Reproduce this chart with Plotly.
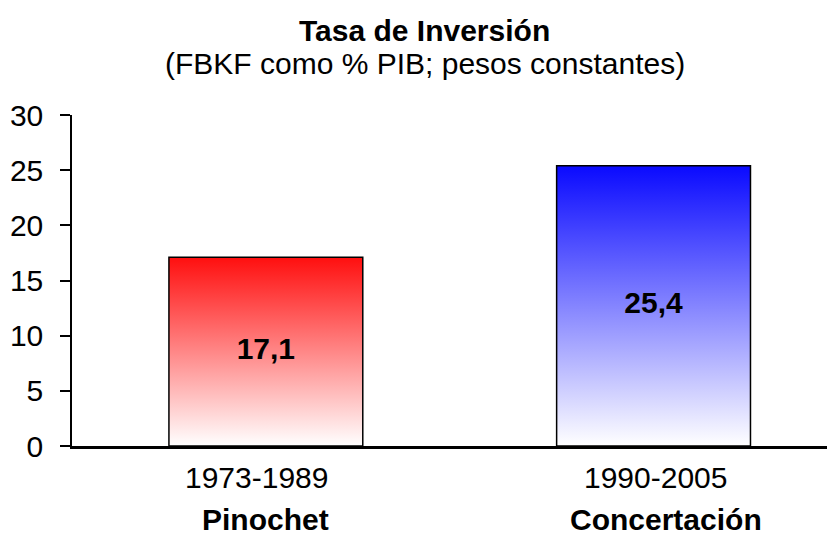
import plotly.graph_objects as go

# datos
periodos = ["1973-1989", "1990-2005"]
gobiernos = ["Pinochet", "Concertación"]
tasa_inversion = [17.1, 25.4]
etiquetas = ["17,1", "25,4"]
colores_top = ["#ff0f0f", "#0a0aff"]

font_family = "Liberation Sans, Arial, sans-serif"
fsize = 30
bar_w = 0.5
xpos = list(range(len(periodos)))
# pequeños desplazamientos de las etiquetas del eje x (como en el original)
shift_periodo = [-9, 2]
shift_gobierno = [0, 12]

fig = go.Figure()

# barras: relleno degradado (blanco abajo -> color arriba) con contorno negro
for i, v in enumerate(tasa_inversion):
    x0, x1 = xpos[i] - bar_w / 2, xpos[i] + bar_w / 2
    fig.add_trace(go.Scatter(
        x=[x0, x1, x1, x0, x0], y=[0, 0, v, v, 0],
        mode="lines", line=dict(width=1.5, color="black"), fill="toself",
        fillgradient=dict(type="vertical",
                          colorscale=[[0, "#ffffff"], [1, colores_top[i]]]),
        hoverinfo="skip", showlegend=False))

# valores en el centro de cada barra
fig.add_trace(go.Scatter(
    x=xpos, y=[v / 2 for v in tasa_inversion], mode="text", text=etiquetas,
    textposition="middle center",
    textfont=dict(family=font_family, size=fsize, color="black", weight="bold"),
    hoverinfo="skip", showlegend=False))

anns = [
    dict(text="<b>Tasa de Inversión</b>", x=0.4626, y=1.255),
    dict(text="(FBKF como % PIB; pesos constantes)", x=0.4626, y=1.157),
]
for i in range(len(periodos)):
    anns.append(dict(text=periodos[i], x=xpos[i], y=-0.095, xref="x",
                     xshift=shift_periodo[i]))
    anns.append(dict(text="<b>" + gobiernos[i] + "</b>", x=xpos[i], y=-0.222,
                     xref="x", xshift=shift_gobierno[i]))
for a in anns:
    a.setdefault("xref", "paper")
    a.update(yref="paper", showarrow=False, xanchor="center", yanchor="middle",
             font=dict(family=font_family, size=fsize, color="black"))

# la pagina deja 8px de margen en el body, se compensa aqui
fig.update_layout(
    width=827, height=526,
    margin=dict(l=64, r=0, t=106.5, b=88.3),
    paper_bgcolor="white", plot_bgcolor="white",
    font=dict(family=font_family, size=fsize, color="black"),
    annotations=anns,
)
fig.update_xaxes(range=[-0.5, 1.468], showgrid=False, zeroline=False,
                 showline=True, linecolor="black", linewidth=3,
                 showticklabels=False, ticks="")
fig.update_yaxes(range=[0, 30], dtick=5, tick0=0, showgrid=False, zeroline=False,
                 showline=True, linecolor="black", linewidth=1.5,
                 ticks="outside", ticklen=10, tickwidth=1.5, tickcolor="black",
                 ticklabelstandoff=11,
                 tickfont=dict(family=font_family, size=fsize, color="black"))

fig.write_html("out.html")
